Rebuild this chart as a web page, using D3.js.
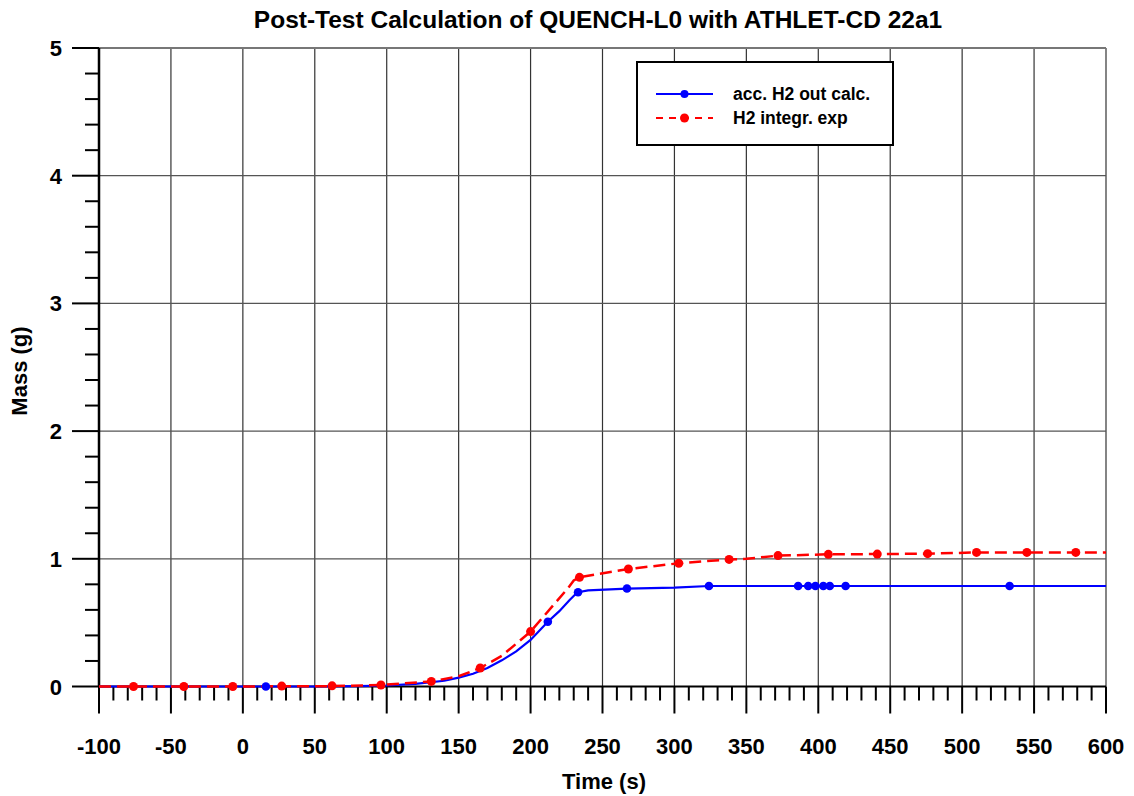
<!DOCTYPE html>
<html><head><meta charset="utf-8">
<script src="https://cdn.jsdelivr.net/npm/d3@7"></script>
<style>body{margin:0;background:#fff}svg{display:block}text{font-family:"Liberation Sans",Arial,sans-serif;fill:#000;font-weight:bold}</style>
</head><body><div id="c"></div>
<script>
const title = "Post-Test Calculation of QUENCH-L0 with ATHLET-CD 22a1";
const xTitle = "Time (s)", yTitle = "Mass (g)";
const seriesNames = ["acc. H2 out calc.", "H2 integr. exp"];
const xTicks = [-100,-50,0,50,100,150,200,250,300,350,400,450,500,550,600];
const yTicks = [0,1,2,3,4,5];
// calculation line
const calcTime = [-100,0,50,80,100,120,140,150,160,170,180,190,200,212,220,227,231,233,240,267,300,324,600];
const calcMass = [0,0,0,0.003,0.008,0.02,0.045,0.07,0.1,0.145,0.205,0.275,0.365,0.507,0.59,0.675,0.72,0.738,0.753,0.767,0.775,0.787,0.787];
const calcMarkT = [16,212,233,267,324,386,393,398,403.5,408,419,533];
const calcMarkM = [0,0.507,0.738,0.767,0.787,0.787,0.787,0.787,0.787,0.787,0.787,0.787];
// experiment line
const expTime = [-100,0,62,96,131,150,165,180,200,226,230,234,268,303,338,350,372,407,441,476,510,545,579,600];
const expMass = [0,0,0.003,0.012,0.04,0.08,0.145,0.24,0.43,0.77,0.83,0.855,0.92,0.965,0.995,1.0,1.025,1.035,1.037,1.04,1.05,1.05,1.05,1.05];
const expMarkT = [-76,-41,-7,27,62,96,131,165,200,234,268,303,338,372,407,441,476,510,545,579];
const expMarkM = [0,0,0,0.003,0.005,0.012,0.04,0.145,0.43,0.855,0.92,0.965,0.995,1.025,1.035,1.037,1.04,1.05,1.05,1.05];

const W=1134,H=796, L=99,R=1106,T=48,B=686.5;
const svg=d3.select("#c").append("svg").attr("width",W).attr("height",H);
const x=d3.scaleLinear().domain([-100,600]).range([L,R]);
const y=d3.scaleLinear().domain([0,5]).range([B,T]);

// grid
svg.append("g").selectAll("line").data(xTicks).join("line")
 .attr("x1",d=>x(d)).attr("x2",d=>x(d)).attr("y1",T).attr("y2",B)
 .attr("stroke","#333").attr("stroke-width",1.2);
svg.append("g").selectAll("line").data(yTicks).join("line")
 .attr("x1",L).attr("x2",R).attr("y1",d=>y(d)).attr("y2",d=>y(d))
 .attr("stroke",d=>d===5?"#777":"#555").attr("stroke-width",d=>d===5?2:1.2);

// x axis
const xMinor=d3.range(-100,601,10);
const gx=svg.append("g");
gx.selectAll("line").data(xMinor).join("line")
 .attr("x1",d=>x(d)).attr("x2",d=>x(d)).attr("y1",B)
 .attr("y2",d=>d%50===0?B+27:B+14).attr("stroke","#000").attr("stroke-width",2);
gx.append("line").attr("x1",L).attr("x2",R).attr("y1",B).attr("y2",B).attr("stroke","#000").attr("stroke-width",2);
gx.selectAll("text").data(xTicks).join("text")
 .attr("x",d=>x(d)).attr("y",754).attr("text-anchor","middle")
 .attr("font-size",22).text(d=>d);
// y axis
const yMinor=d3.range(0,26).map(i=>i*0.2);
const gy=svg.append("g");
gy.selectAll("line").data(yMinor).join("line")
 .attr("y1",d=>y(d)).attr("y2",d=>y(d)).attr("x2",L)
 .attr("x1",(d,i)=>i%5===0?L-27:L-14).attr("stroke","#000").attr("stroke-width",2);
gy.append("line").attr("x1",L).attr("x2",L).attr("y1",T).attr("y2",B).attr("stroke","#000").attr("stroke-width",2.5);
gy.selectAll("text").data(yTicks).join("text")
 .attr("x",62).attr("y",d=>y(d)+8).attr("text-anchor","end")
 .attr("font-size",22).text(d=>d);

// titles
svg.append("text").attr("x",598).attr("y",28).attr("text-anchor","middle").attr("font-size",24.5).text(title);
svg.append("text").attr("x",604).attr("y",789).attr("text-anchor","middle").attr("font-size",22).text(xTitle);
svg.append("text").attr("transform","translate(27,371) rotate(-90)").attr("text-anchor","middle").attr("font-size",22).text(yTitle);

const line=d3.line().x(d=>x(d[0])).y(d=>y(d[1]));
const calc=calcTime.map((t,i)=>[t,calcMass[i]]);
const exp=expTime.map((t,i)=>[t,expMass[i]]);
svg.append("path").attr("d",line(calc)).attr("fill","none").attr("stroke","#0000ff").attr("stroke-width",2.2);
svg.append("path").attr("d",line(exp)).attr("fill","none").attr("stroke","#ff0000").attr("stroke-width",2.5).attr("stroke-dasharray","12,6");
svg.append("g").selectAll("circle").data(calcMarkT).join("circle")
 .attr("cx",d=>x(d)).attr("cy",(d,i)=>y(calcMarkM[i])).attr("r",4.3).attr("fill","#0000ff");
svg.append("g").selectAll("circle").data(expMarkT).join("circle")
 .attr("cx",d=>x(d)).attr("cy",(d,i)=>y(expMarkM[i])).attr("r",4.5).attr("fill","#ff0000");

// legend
const lg=svg.append("g");
lg.append("rect").attr("x",637).attr("y",62).attr("width",256).attr("height",83).attr("fill","#fff").attr("stroke","#000").attr("stroke-width",2);
const rows=[{c:"#0000ff",d:null,y:94,r:4},{c:"#ff0000",d:"7,6",y:118,r:4.5}];
rows.forEach((r,i)=>{
 lg.append("line").attr("x1",656).attr("x2",713).attr("y1",r.y).attr("y2",r.y).attr("stroke",r.c).attr("stroke-width",2).attr("stroke-dasharray",r.d);
 lg.append("circle").attr("cx",684.5).attr("cy",r.y).attr("r",r.r).attr("fill",r.c);
 lg.append("text").attr("x",733).attr("y",r.y+6).attr("font-size",17.5).text(seriesNames[i]);
});
</script></body></html>
